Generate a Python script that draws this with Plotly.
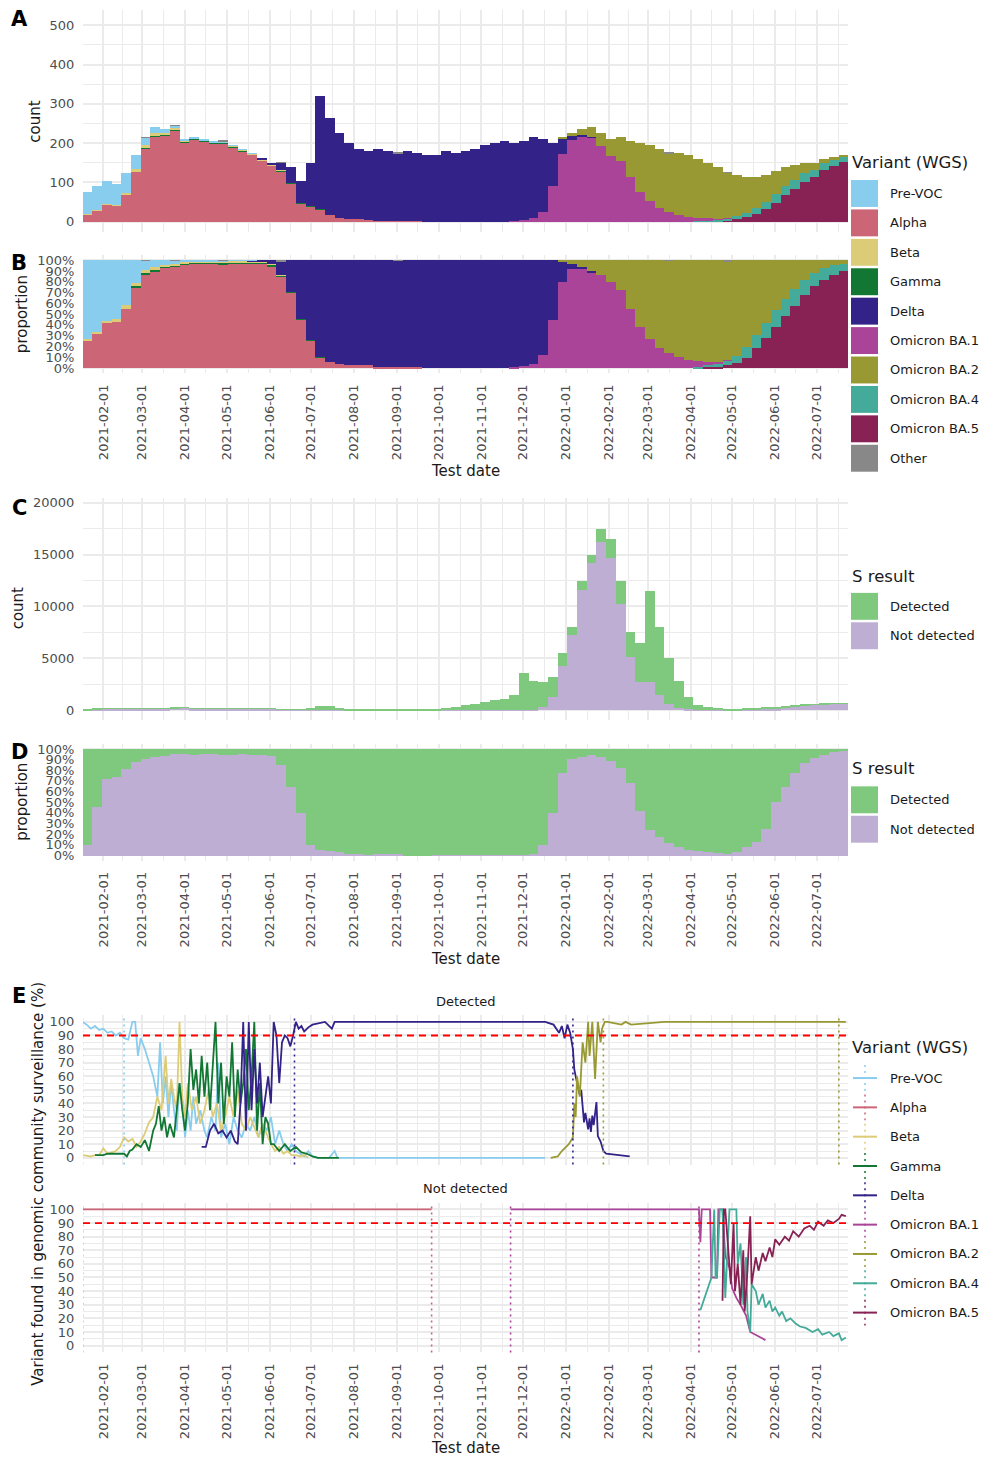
import pandas as pd
import plotly.graph_objects as go

W, H = 981, 1460
def px(x): return x / W
def py(y): return 1 - y / H

# ---------------- data ----------------
# weekly bins (week starting on the given Sunday)
week_start = pd.date_range("2021-01-17", periods=79, freq="7D")

variants = ["Pre-VOC", "Alpha", "Beta", "Gamma", "Delta", "Omicron BA.1",
            "Omicron BA.2", "Omicron BA.4", "Omicron BA.5", "Other"]
colors = {"Pre-VOC": "#88CCEE", "Alpha": "#CC6677", "Beta": "#DDCC77", "Gamma": "#117733",
          "Delta": "#332288", "Omicron BA.1": "#AA4499", "Omicron BA.2": "#999933",
          "Omicron BA.4": "#44AA99", "Omicron BA.5": "#882255", "Other": "#888888"}

# Panel A: mean daily WGS counts per variant, by week
pre_voc = [55, 60, 59, 52, 52, 36, 19, 14, 9, 7,
           4, 2, 2, 2, 2, 1, 1, 1, 0, 0,
           0, 0, 0, 0, 0, 0, 0, 0, 0, 0,
           0, 0, 0, 0, 0, 0, 0, 0, 0, 0,
           0, 0, 0, 0, 0, 0, 0, 0, 0, 0,
           0, 0, 0, 0, 0, 0, 0, 0, 0, 0,
           0, 0, 0, 0, 0, 0, 0, 0, 0, 0,
           0, 0, 0, 0, 0, 0, 0, 0, 0]
alpha = [19, 29, 44, 41, 69, 127, 187, 216, 219, 233,
         202, 209, 204, 199, 199, 190, 180, 170, 155, 142,
         128, 98, 47, 38, 32, 16, 9, 6, 6, 5,
         2, 2, 1, 1, 1, 0, 0, 0, 0, 0,
         0, 0, 0, 0, 0, 0, 0, 0, 0, 0,
         0, 0, 0, 0, 0, 0, 0, 0, 0, 0,
         0, 0, 0, 0, 0, 0, 0, 0, 0, 0,
         0, 0, 0, 0, 0, 0, 0, 0, 0]
beta = [1, 1, 2, 2, 4, 5, 6, 7, 5, 3,
        2, 2, 2, 2, 2, 2, 2, 1, 1, 1,
        1, 0, 0, 0, 0, 0, 0, 0, 0, 0,
        0, 0, 0, 0, 0, 0, 0, 0, 0, 0,
        0, 0, 0, 0, 0, 0, 0, 0, 0, 0,
        0, 0, 0, 0, 0, 0, 0, 0, 0, 0,
        0, 0, 0, 0, 0, 0, 0, 0, 0, 0,
        0, 0, 0, 0, 0, 0, 0, 0, 0]
gamma = [0, 0, 0, 0, 0, 2, 2, 3, 2, 2,
         2, 2, 2, 2, 2, 2, 2, 2, 2, 2,
         2, 1, 1, 1, 1, 0, 0, 0, 0, 0,
         0, 0, 0, 0, 0, 0, 0, 0, 0, 0,
         0, 0, 0, 0, 0, 0, 0, 0, 0, 0,
         0, 0, 0, 0, 0, 0, 0, 0, 0, 0,
         0, 0, 0, 0, 0, 0, 0, 0, 0, 0,
         0, 0, 0, 0, 0, 0, 0, 0, 0]
delta = [0, 0, 0, 0, 0, 0, 0, 0, 0, 0,
         0, 0, 0, 0, 0, 0, 0, 1, 2, 5,
         19, 41, 57, 111, 287, 249, 216, 194, 179, 175,
         183, 178, 174, 179, 174, 170, 170, 180, 175, 180,
         185, 195, 200, 205, 198, 201, 206, 185, 110, 41,
         11, 5, 2, 0, 0, 0, 0, 0, 0, 0,
         0, 0, 0, 0, 0, 0, 0, 0, 0, 0,
         0, 0, 0, 0, 0, 0, 0, 0, 0]
ba1 = [0, 0, 0, 0, 0, 0, 0, 0, 0, 0,
       0, 0, 0, 0, 0, 0, 0, 0, 0, 0,
       0, 0, 0, 0, 0, 0, 0, 0, 0, 0,
       0, 0, 0, 0, 0, 0, 0, 0, 0, 0,
       0, 0, 0, 0, 2, 4, 9, 25, 90, 172,
       207, 216, 214, 194, 168, 155, 113, 76, 53, 35,
       25, 18, 12, 8, 5, 3, 1, 0, 0, 0,
       0, 0, 0, 0, 0, 0, 0, 0, 0]
ba2 = [0, 0, 0, 0, 0, 0, 0, 0, 0, 0,
       0, 0, 0, 0, 0, 0, 0, 0, 0, 0,
       0, 0, 0, 0, 0, 0, 0, 0, 0, 0,
       0, 0, 0, 0, 0, 0, 0, 0, 0, 0,
       0, 0, 0, 0, 0, 0, 0, 0, 0, 2,
       7, 14, 24, 31, 42, 60, 92, 124, 142, 150,
       150, 157, 158, 150, 141, 132, 115, 106, 92, 80,
       70, 60, 50, 39, 27, 17, 11, 7, 5]
ba4 = [0, 0, 0, 0, 0, 0, 0, 0, 0, 0,
       0, 0, 0, 0, 0, 0, 0, 0, 0, 0,
       0, 0, 0, 0, 0, 0, 0, 0, 0, 0,
       0, 0, 0, 0, 0, 0, 0, 0, 0, 0,
       0, 0, 0, 0, 0, 0, 0, 0, 0, 0,
       0, 0, 0, 0, 0, 0, 0, 0, 0, 0,
       0, 0, 0, 2, 3, 4, 5, 8, 12, 14,
       17, 21, 22, 22, 21, 18, 18, 15, 12]
ba5 = [0, 0, 0, 0, 0, 0, 0, 0, 0, 0,
       0, 0, 0, 0, 0, 0, 0, 0, 0, 0,
       0, 0, 0, 0, 0, 0, 0, 0, 0, 0,
       0, 0, 0, 0, 0, 0, 0, 0, 0, 0,
       0, 0, 0, 0, 0, 0, 0, 0, 0, 0,
       0, 0, 0, 0, 0, 0, 0, 0, 0, 0,
       0, 0, 0, 0, 1, 1, 4, 6, 11, 21,
       33, 49, 68, 84, 102, 115, 131, 143, 153]
other = [0, 0, 0, 0, 0, 0, 1, 0, 0, 1,
         0, 0, 0, 0, 1, 0, 0, 0, 0, 0,
         1, 0, 0, 0, 0, 0, 0, 0, 0, 0,
         0, 0, 1, 0, 0, 0, 0, 0, 0, 0,
         0, 0, 0, 0, 0, 0, 0, 0, 0, 0,
         0, 0, 0, 0, 0, 0, 0, 0, 0, 0,
         1, 0, 0, 0, 0, 0, 1, 0, 0, 0,
         0, 0, 0, 0, 0, 0, 0, 0, 0]

# Panel C: mean daily S-gene target results, by week
s_not_detected = [11, 59, 115, 118, 139, 158, 173, 186, 188, 200,
                  211, 190, 181, 181, 190, 190, 181, 152, 133, 112,
                  85, 52, 28, 15, 20, 15, 8, 3, 2, 1,
                  1, 1, 1, 0, 0, 0, 1, 1, 1, 2,
                  3, 4, 5, 5, 8, 18, 56, 270, 1280, 4290,
                  7280, 11625, 14250, 16275, 14685, 10250, 5100, 2730, 2760, 1440,
                  600, 224, 65, 20, 9, 5, 3, 5, 14, 29,
                  65, 165, 260, 374, 452, 534, 589, 621, 608]
s_detected = [99, 71, 45, 42, 31, 22, 17, 14, 12, 10,
              9, 10, 9, 9, 10, 10, 9, 8, 7, 8,
              15, 28, 42, 135, 380, 365, 242, 147, 118, 99,
              89, 84, 79, 80, 80, 80, 119, 199, 299, 448,
              597, 796, 945, 1045, 1492, 3582, 2744, 2430, 1920, 1210,
              720, 875, 750, 1225, 1815, 2250, 2400, 3770, 8740, 6560,
              4400, 2576, 1235, 480, 291, 195, 147, 125, 166, 191,
              195, 165, 140, 106, 68, 46, 31, 19, 12]

# Panel E: % of variant found in genomic surveillance (day offsets from 2021-01-17)
E_BASE = pd.Timestamp("2021-01-17")
prevoc_det_day = [0, 3, 6, 9, 12, 15, 18, 21, 24, 27, 30, 33, 36, 38, 40, 42, 45, 48, 51, 54,
                  56, 58, 60, 62, 64, 66, 68, 70, 72, 74, 76, 78, 80, 82, 85, 88, 90, 93, 96, 98,
                  100, 103, 106, 109, 112, 115, 118, 121, 124, 127, 130, 133, 136, 139, 142, 145, 148, 151, 154, 157,
                  160, 163, 166, 170, 178, 182, 184, 334]
prevoc_det_pct = [100, 98, 95, 97, 94, 95, 92, 93, 90, 92, 88, 87, 100, 100, 75, 88, 80, 70, 60, 45,
                  85, 40, 60, 30, 55, 35, 20, 55, 40, 15, 35, 20, 45, 25, 35, 20, 15, 30, 20, 70,
                  15, 25, 10, 30, 20, 15, 25, 20, 30, 15, 25, 20, 30, 10, 20, 10, 5, 10, 5, 3,
                  1, 5, 1, 0, 0, 5, 0, 0]
beta_det_day = [0, 6, 9, 12, 15, 18, 21, 24, 27, 30, 33, 36, 39, 42, 45, 48, 51, 54, 57, 60,
                62, 64, 66, 68, 70, 72, 74, 76, 79, 82, 85, 88, 91, 94, 97, 100, 103, 106, 109, 112,
                115, 118, 121, 124, 127, 130, 133, 136, 139, 142, 145, 148, 151, 154, 157, 160, 163]
beta_det_pct = [2, 1, 2, 2, 7, 3, 4, 5, 8, 15, 12, 14, 8, 12, 18, 26, 30, 45, 35, 75,
                40, 58, 45, 35, 100, 45, 30, 55, 35, 45, 25, 35, 50, 30, 40, 20, 30, 45, 30, 50,
                25, 20, 30, 22, 15, 25, 18, 10, 5, 8, 3, 5, 2, 2, 1, 2, 0]
gamma_det_day = [9, 12, 15, 18, 21, 24, 27, 30, 32, 34, 36, 39, 42, 45, 48, 51, 53, 55, 57, 59,
                 61, 63, 66, 70, 72, 74, 76, 78, 80, 82, 84, 86, 88, 90, 92, 94, 96, 98, 100, 102,
                 104, 106, 108, 110, 112, 114, 116, 118, 120, 122, 124, 126, 128, 130, 132, 134, 136, 138, 142, 146,
                 150, 154, 158, 162, 166, 170, 185]
gamma_det_pct = [2, 2, 2, 3, 3, 3, 3, 3, 1, 5, 6, 10, 8, 13, 5, 20, 25, 38, 20, 30,
                 15, 25, 15, 55, 35, 20, 40, 80, 50, 65, 40, 75, 45, 70, 35, 65, 100, 40, 70, 25,
                 60, 45, 85, 30, 65, 40, 55, 80, 35, 60, 100, 20, 55, 10, 30, 25, 10, 10, 5, 10,
                 5, 8, 4, 3, 1, 0, 0]
delta_det_day = [86, 89, 92, 95, 98, 101, 104, 107, 110, 112, 114, 116, 118, 120, 122, 124, 126, 128, 130, 132,
                 134, 136, 138, 140, 142, 144, 146, 148, 150, 152, 154, 156, 158, 160, 163, 166, 170, 175, 180, 182,
                 190, 250, 334, 340, 344, 346, 348, 350, 352, 354, 355, 357, 359, 360, 361, 362, 363, 365, 366, 367,
                 368, 369, 371, 372, 374, 376, 378, 395]
delta_det_pct = [8, 8, 20, 25, 18, 20, 15, 20, 12, 10, 40, 100, 20, 100, 35, 80, 40, 70, 30, 45,
                 60, 40, 100, 90, 55, 85, 90, 88, 82, 90, 100, 95, 97, 93, 96, 98, 99, 100, 95, 100,
                 100, 100, 100, 98, 92, 97, 88, 98, 92, 80, 65, 55, 46, 50, 38, 26, 33, 21, 29, 19,
                 31, 24, 41, 16, 12, 5, 3, 1]
ba2_det_day = [338, 343, 346, 351, 354, 355, 356, 357, 359, 361, 363, 365, 366, 368, 370, 372, 374, 375, 377, 379,
               389, 392, 396, 420, 551]
ba2_det_pct = [0, 1, 5, 10, 15, 40, 30, 60, 45, 85, 70, 100, 75, 100, 58, 100, 85, 95, 100, 100,
               98, 100, 98, 100, 100]
alpha_nd_day = [0, 252]
alpha_nd_pct = [100, 100]
ba1_nd_day = [309, 445, 446, 447, 453, 454, 458, 459, 462, 464, 467, 469, 472, 475, 479, 482, 493]
ba1_nd_pct = [100, 100, 76, 100, 100, 50, 50, 100, 100, 66, 57, 42, 35, 30, 22, 10, 4]
ba4_nd_day = [446, 452, 454, 456, 457, 458, 460, 462, 464, 467, 470, 472, 473, 475, 477, 479, 480, 482, 483, 486,
              488, 491, 493, 496, 498, 500, 503, 505, 508, 511, 515, 518, 522, 527, 531, 534, 539, 542, 546, 548, 551]
ba4_nd_pct = [26, 45, 50, 100, 50, 50, 100, 100, 35, 100, 100, 100, 60, 75, 30, 65, 25, 10, 45, 40,
              30, 38, 28, 33, 25, 28, 22, 25, 18, 20, 16, 14, 13, 10, 12, 8, 10, 7, 9, 4, 6]
ba5_nd_day = [462, 463, 464, 466, 468, 470, 471, 473, 475, 477, 478, 480, 482, 483, 486, 488, 491, 493, 496, 498,
              500, 503, 507, 510, 513, 517, 521, 525, 528, 531, 535, 538, 542, 546, 548, 551]
ba5_nd_pct = [33, 100, 100, 70, 45, 90, 40, 60, 30, 70, 25, 55, 95, 45, 65, 55, 68, 62, 72, 65,
              78, 74, 80, 77, 84, 80, 86, 88, 85, 91, 88, 92, 90, 93, 96, 95]
# period boundaries (>90% dominance) marked by dotted lines, day offsets
prevoc_det_period = [0, 30]
delta_det_period = [153, 354]
ba2_det_period = [376, 546]
alpha_nd_period = [0, 252]
ba1_nd_period = [309, 445]
threshold_pct = 90

# ---------------- build ----------------
counts = {"Pre-VOC": pre_voc, "Alpha": alpha, "Beta": beta, "Gamma": gamma, "Delta": delta,
          "Omicron BA.1": ba1, "Omicron BA.2": ba2, "Omicron BA.4": ba4, "Omicron BA.5": ba5,
          "Other": other}
stack_order = ["Omicron BA.5", "Omicron BA.4", "Omicron BA.1", "Alpha", "Gamma", "Beta",
               "Delta", "Omicron BA.2", "Pre-VOC", "Other"]
totals = [sum(counts[v][i] for v in variants) for i in range(len(week_start))]
WEEK_MS = 7 * 86400000

fig = go.Figure()
for v in stack_order:
    fig.add_trace(go.Bar(x=week_start, y=counts[v], width=WEEK_MS, offset=0, name=v,
                         marker=dict(color=colors[v], line=dict(width=0)), showlegend=False,
                         xaxis="x", yaxis="y"))
    share = [c / t if t else 0 for c, t in zip(counts[v], totals)]
    fig.add_trace(go.Bar(x=week_start, y=share, width=WEEK_MS, offset=0, name=v,
                         marker=dict(color=colors[v], line=dict(width=0)), showlegend=False,
                         xaxis="x2", yaxis="y2"))

s_colors = {"Detected": "#7FC97F", "Not detected": "#BEAED4"}
s_tot = [a + b for a, b in zip(s_detected, s_not_detected)]
for name, vals in [("Not detected", s_not_detected), ("Detected", s_detected)]:
    fig.add_trace(go.Bar(x=week_start, y=vals, width=WEEK_MS, offset=0, name=name,
                         marker=dict(color=s_colors[name], line=dict(width=0)), showlegend=False,
                         xaxis="x3", yaxis="y3"))
    fig.add_trace(go.Bar(x=week_start, y=[a / t for a, t in zip(vals, s_tot)], width=WEEK_MS, offset=0,
                         name=name, marker=dict(color=s_colors[name], line=dict(width=0)),
                         showlegend=False, xaxis="x4", yaxis="y4"))

def to_dates(days):
    return [E_BASE + pd.Timedelta(days=d) for d in days]

top_lines = [("Pre-VOC", prevoc_det_day, prevoc_det_pct), ("Beta", beta_det_day, beta_det_pct),
             ("Gamma", gamma_det_day, gamma_det_pct), ("Delta", delta_det_day, delta_det_pct),
             ("Omicron BA.2", ba2_det_day, ba2_det_pct)]
bot_lines = [("Alpha", alpha_nd_day, alpha_nd_pct), ("Omicron BA.1", ba1_nd_day, ba1_nd_pct),
             ("Omicron BA.4", ba4_nd_day, ba4_nd_pct), ("Omicron BA.5", ba5_nd_day, ba5_nd_pct)]
for v, d, p in top_lines:
    fig.add_trace(go.Scatter(x=to_dates(d), y=p, mode="lines", name=v, showlegend=False,
                             line=dict(color=colors[v], width=1.8), xaxis="x5", yaxis="y5"))
for v, d, p in bot_lines:
    fig.add_trace(go.Scatter(x=to_dates(d), y=p, mode="lines", name=v, showlegend=False,
                             line=dict(color=colors[v], width=1.8), xaxis="x6", yaxis="y6"))

shapes = []
periods = [("x5", "y5", "Pre-VOC", prevoc_det_period), ("x5", "y5", "Delta", delta_det_period),
           ("x5", "y5", "Omicron BA.2", ba2_det_period), ("x6", "y6", "Alpha", alpha_nd_period),
           ("x6", "y6", "Omicron BA.1", ba1_nd_period)]
for xr, yr, v, per in periods:
    for dt in to_dates(per):
        shapes.append(dict(type="line", xref=xr, yref=yr + " domain", x0=dt, x1=dt, y0=0, y1=1,
                           line=dict(color=colors[v], width=1.6, dash="2px,4px")))
for xr, yr in [("x5", "y5"), ("x6", "y6")]:
    shapes.append(dict(type="line", xref=xr + " domain", yref=yr, x0=0, x1=1,
                       y0=threshold_pct, y1=threshold_pct,
                       line=dict(color="#FF0000", width=1.8, dash="7px,5px")))

# ---------------- axes ----------------
GRID = "#EBEBEB"
TICKC = "#4D4D4D"
FONT = "DejaVu Sans"
xdom = [px(83), px(848)]
x_range = ["2021-01-17 08:00", "2022-07-23 14:00"]
month_ticks = pd.date_range("2021-02-01", "2022-07-01", freq="MS")
month_labels = [d.strftime("%Y-%m-%d") for d in month_ticks]
all_months = pd.date_range("2021-01-01", "2022-08-01", freq="MS")
mid_ticks = [all_months[i] + (all_months[i + 1] - all_months[i]) / 2 for i in range(len(all_months) - 1)]

def xaxis(anchor, labels):
    return dict(domain=xdom, range=x_range, type="date", anchor=anchor, showgrid=True,
                gridcolor=GRID, gridwidth=1.6, tickmode="array", tickvals=month_ticks,
                ticktext=month_labels, tickangle=-90, showticklabels=labels,
                ticks="outside", ticklen=5, tickcolor="rgba(0,0,0,0)",
                tickfont=dict(family=FONT, size=13, color=TICKC),
                minor=dict(tickmode="array", tickvals=mid_ticks, showgrid=True,
                           gridcolor=GRID, gridwidth=0.9, ticks=""),
                zeroline=False, showline=False, fixedrange=True)

def yaxis(anchor, dom, rng, dtick, minor, fmt="d"):
    return dict(domain=dom, range=rng, anchor=anchor, dtick=dtick, tick0=0, showgrid=True,
                gridcolor=GRID, gridwidth=1.6, ticks="outside", ticklen=5, tickformat=fmt,
                tickcolor="rgba(0,0,0,0)", tickfont=dict(family=FONT, size=13, color=TICKC),
                minor=dict(dtick=minor, showgrid=True, gridcolor=GRID, gridwidth=0.9, ticks=""),
                zeroline=False, showline=False, fixedrange=True)

layout = dict(
    width=W, height=H, autosize=False, margin=dict(l=0, r=0, t=0, b=0),
    paper_bgcolor="white", plot_bgcolor="white", barmode="stack", bargap=0,
    font=dict(family=FONT, size=13, color="#1A1A1A"), showlegend=False,
    xaxis=xaxis("y", False), xaxis2=xaxis("y2", True), xaxis3=xaxis("y3", False),
    xaxis4=xaxis("y4", True), xaxis5=xaxis("y5", False), xaxis6=xaxis("y6", True),
    yaxis=yaxis("x", [py(231), py(8)], [-27, 539], 100, 50),
    yaxis2=yaxis("x2", [py(372.4), py(253.6)], [-0.05, 1.05], 0.1, 0.05, ".0%"),
    yaxis3=yaxis("x3", [py(720.2), py(497.3)], [-980, 20480], 5000, 2500),
    yaxis4=yaxis("x4", [py(861), py(743.7)], [-0.05, 1.05], 0.1, 0.05, ".0%"),
    yaxis5=yaxis("x5", [py(1165.8), py(1015.9)], [-5, 105], 10, 5),
    yaxis6=yaxis("x6", [py(1354.1), py(1203.9)], [-5, 105], 10, 5),
)

# ---------------- text ----------------
ann = []
def text(x, y, s, size=13, color="#1A1A1A", angle=0, xanchor="center", bold=False):
    ann.append(dict(x=px(x), y=py(y), xref="paper", yref="paper", text=("<b>%s</b>" % s) if bold else s,
                    showarrow=False, textangle=angle, xanchor=xanchor, yanchor="middle",
                    font=dict(family=FONT, size=size, color=color)))

for letter, yy in [("A", 17), ("B", 262), ("C", 507), ("D", 752), ("E", 997)]:
    text(19, yy, letter, size=21, color="black", bold=True)
text(35, 120, "count", size=15, angle=-90)
text(22, 313, "proportion", size=15, angle=-90)
text(18, 608, "count", size=15, angle=-90)
text(22, 802, "proportion", size=15, angle=-90)
text(38, 1185, "Variant found in genomic community surveillance (%)", size=15, angle=-90)
for yy in [470, 960, 1450]:
    text(465.5, yy, "Test date", size=15)
text(465.5, 1002, "Detected", size=13)
text(465.5, 1190, "Not detected", size=13)

# custom legends (large ggplot-like keys)
def bar_legend(title, title_y, first_y, names, cols):
    text(850, title_y, title, size=16.5, xanchor="left")
    for i, n in enumerate(names):
        cy = first_y + i * 29.5
        shapes.append(dict(type="rect", xref="paper", yref="paper", x0=px(851), x1=px(878),
                           y0=py(cy + 13.5), y1=py(cy - 13.5), fillcolor=cols[n], line=dict(width=0)))
        text(888, cy, n, size=13, xanchor="left")

bar_legend("Variant (WGS)", 161, 192, variants, colors)
bar_legend("S result", 576, 606, ["Detected", "Not detected"], s_colors)
bar_legend("S result", 769, 800, ["Detected", "Not detected"], s_colors)

text(850, 1048, "Variant (WGS)", size=16.5, xanchor="left")
for i, n in enumerate(variants[:9]):
    cy = 1079 + i * 29.4
    shapes.append(dict(type="line", xref="paper", yref="paper", x0=px(853), x1=px(877),
                       y0=py(cy), y1=py(cy), line=dict(color=colors[n], width=2)))
    shapes.append(dict(type="line", xref="paper", yref="paper", x0=px(865), x1=px(865),
                       y0=py(cy - 13), y1=py(cy + 13), line=dict(color=colors[n], width=1.5, dash="2px,4px")))
    text(888, cy, n, size=13, xanchor="left")

layout["shapes"] = shapes
layout["annotations"] = ann
fig.update_layout(**layout)
fig.write_html("out.html", config={"displayModeBar": False},
               post_script="document.body.style.margin='0';document.body.style.overflow='hidden';")
